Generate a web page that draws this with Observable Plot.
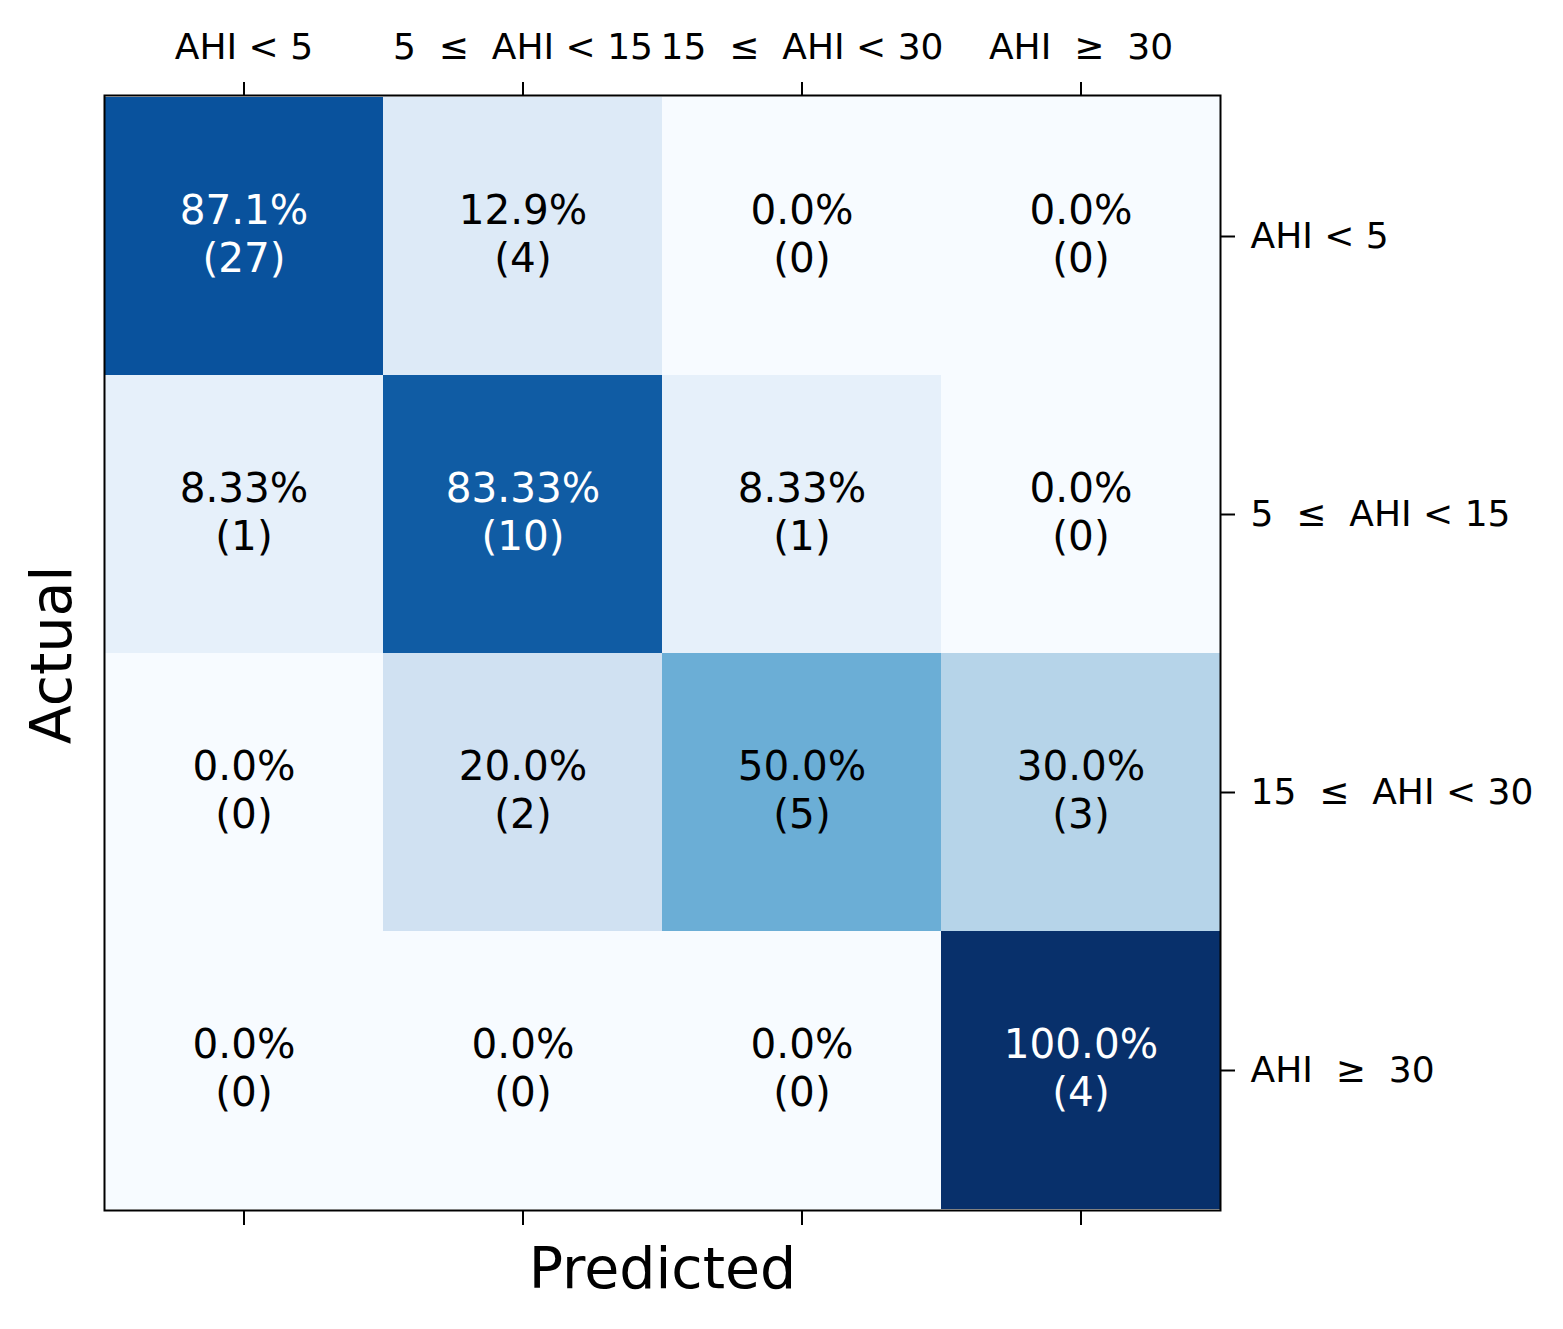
<!DOCTYPE html>
<html>
<head>
<meta charset="utf-8">
<script src="https://cdn.jsdelivr.net/npm/d3@7"></script>
<script src="https://cdn.jsdelivr.net/npm/@observablehq/plot@0.6"></script>
<style>
  html, body { margin: 0; padding: 0; background: white; }
  svg text { white-space: pre; }
</style>
</head>
<body>
<div id="chart"></div>
<script>
// Class labels (tick labels)
const classes = ["AHI < 5", "5  \u2264  AHI < 15", "15  \u2264  AHI < 30", "AHI  \u2265  30"];

// Row-normalised percentages (rows = actual, columns = predicted)
const pctRow0 = [87.1, 12.9, 0.0, 0.0];
const pctRow1 = [8.33, 83.33, 8.33, 0.0];
const pctRow2 = [0.0, 20.0, 50.0, 30.0];
const pctRow3 = [0.0, 0.0, 0.0, 100.0];

// Percentage text as printed
const pctText0 = ["87.1%", "12.9%", "0.0%", "0.0%"];
const pctText1 = ["8.33%", "83.33%", "8.33%", "0.0%"];
const pctText2 = ["0.0%", "20.0%", "50.0%", "30.0%"];
const pctText3 = ["0.0%", "0.0%", "0.0%", "100.0%"];

// Counts
const count0 = [27, 4, 0, 0];
const count1 = [1, 10, 1, 0];
const count2 = [0, 2, 5, 3];
const count3 = [0, 0, 0, 4];

// Matplotlib "Blues" anchor colours
const bluesColors = ["#f7fbff", "#deebf7", "#c6dbef", "#9ecae1", "#6baed6", "#4292c6", "#2171b5", "#08519c", "#08306b"];

const pcts = [pctRow0, pctRow1, pctRow2, pctRow3];
const pctTexts = [pctText0, pctText1, pctText2, pctText3];
const counts = [count0, count1, count2, count3];

const data = [];
classes.forEach((actual, i) => {
  classes.forEach((pred, j) => {
    data.push({actual, pred, pct: pcts[i][j], label: pctTexts[i][j], count: counts[i][j]});
  });
});

const blues = d3.piecewise(d3.interpolateRgb, bluesColors);

const chart = Plot.plot({
  width: 1563,
  height: 1329,
  marginLeft: 104,
  marginRight: 343,
  marginTop: 95,
  marginBottom: 119,
  style: {fontFamily: "DejaVu Sans", background: "white", color: "black"},
  x: {domain: classes, padding: 0, axis: null},
  y: {domain: classes, padding: 0, axis: null},
  color: {type: "linear", domain: [0, 100], interpolate: blues},
  marks: [
    Plot.cell(data, {x: "pred", y: "actual", fill: "pct", inset: 0}),
    Plot.text(data, {
      x: "pred", y: "actual",
      text: d => `${d.label}\n(${d.count})`,
      fill: d => d.pct > 50 ? "white" : "black",
      fontSize: 40.5, lineHeight: 1.18, dy: -4
    }),
    Plot.frame({stroke: "black", strokeWidth: 2}),
    Plot.axisX({anchor: "top", tickSize: 14, tickPadding: 23, fontSize: 36, label: null, strokeWidth: 2}),
    Plot.axisX({anchor: "bottom", tickSize: 15, tickFormat: () => "", label: null, strokeWidth: 2}),
    Plot.axisY({anchor: "right", tickSize: 14, tickPadding: 16, fontSize: 36, label: null, strokeWidth: 2}),
    Plot.text(["Predicted"], {frameAnchor: "bottom", lineAnchor: "bottom", dy: 77, fontSize: 57, text: d => d}),
    Plot.text(["Actual"], {frameAnchor: "left", textAnchor: "middle", rotate: -90, dx: -52, dy: 2, fontSize: 57, text: d => d})
  ]
});

document.getElementById("chart").appendChild(chart);
</script>
</body>
</html>
